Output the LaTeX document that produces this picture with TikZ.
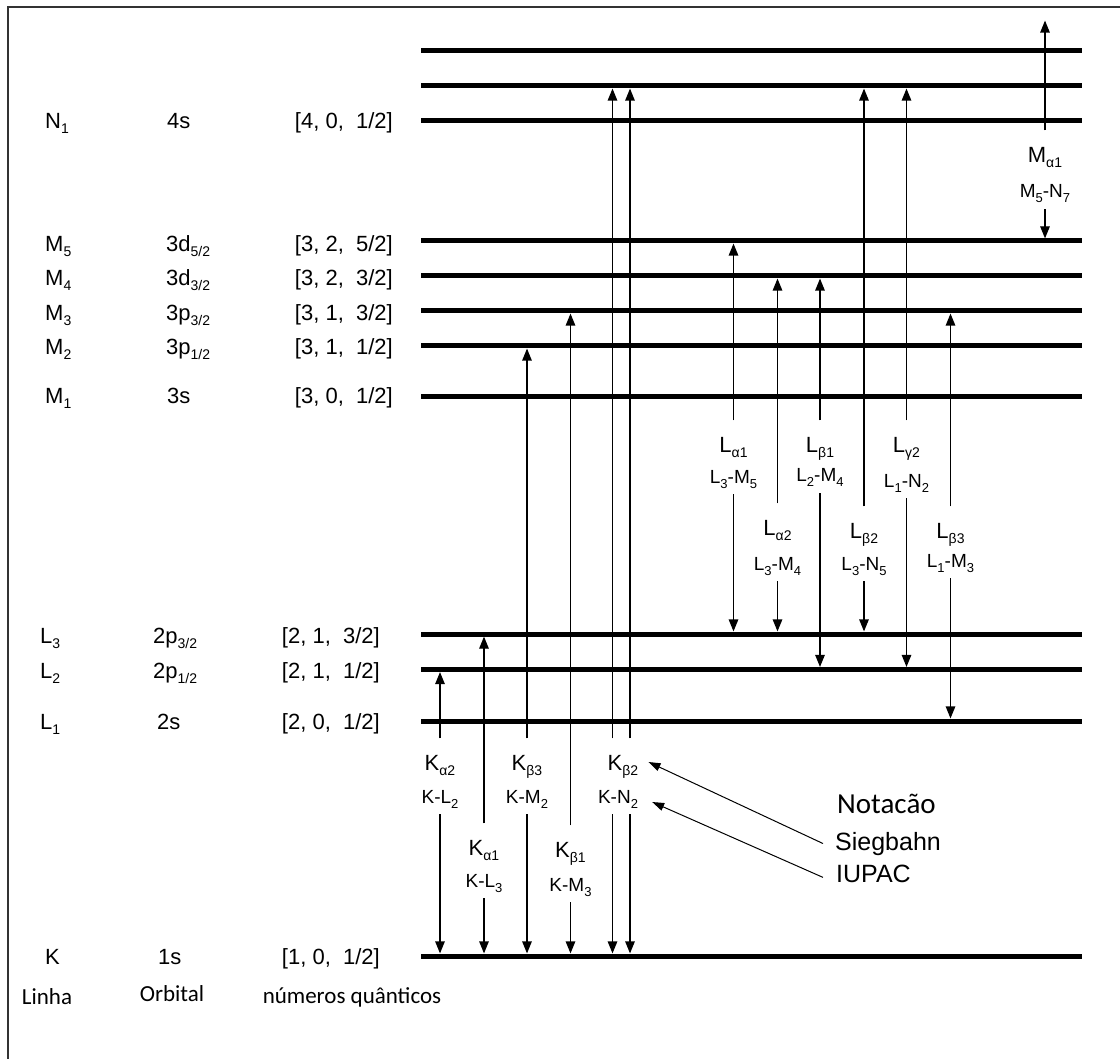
\documentclass[tikz,border=0pt]{standalone}
\usepackage{fontspec}
\setmainfont{Liberation Sans}
\newfontfamily\calfont{Carlito}
\usetikzlibrary{arrows.meta}
\newcommand\sbx[1]{\raisebox{-5pt}{\fontsize{14}{14}\selectfont #1}}
\newcommand\sbi[1]{\raisebox{-5pt}{\fontsize{13}{13}\selectfont #1}}
\tikzset{
  level/.style={line width=5pt},
  arr/.style={line width=1.2pt, -{Triangle[length=12pt,width=9.5pt]}, shorten >=2.6pt},
  narr/.style={line width=1pt, -{Triangle[length=12pt,width=8pt]}},
  frameline/.style={line width=1.6pt, draw=black!80},
  leftlbl/.style={inner sep=0pt, font=\fontsize{22}{26}\selectfont},
  sname/.style={inner sep=0pt, text height=15pt, text depth=4pt, font=\fontsize{22}{26}\selectfont},
  iname/.style={inner sep=0pt, text height=14pt, text depth=4pt, font=\fontsize{19}{23}\selectfont},
  botlbl/.style={inner sep=0pt, font=\calfont\fontsize{23}{27}\selectfont},
}
% name, x, y-name, y-iupac, upper level, lower level, text1, text2
\newcommand\trans[8]{%
  \node[sname] (#1) at (#2,#3) {#7};
  \node[iname] (#1i) at (#2,#4) {#8};
  \draw[arr] ([yshift=17pt]#1.north) -- (#1.north |- #5);
  \draw[arr] ([yshift=-7pt]#1i.south) -- (#1i.south |- #6);
}
\begin{document}
\begin{tikzpicture}[x=1pt,y=-1pt]
\useasboundingbox (0,0) rectangle (1120,1059);
\fill[white] (0,0) rectangle (1120,1059);
% frame (left and top edges visible)
\draw[frameline] (8,1062) -- (8,7) -- (1125,7);

% level lines
\coordinate (T1) at (421,51);
\coordinate (T2) at (421,86);
\coordinate (N1) at (421,121);
\coordinate (M5) at (421,241);
\coordinate (M4) at (421,276);
\coordinate (M3) at (421,311);
\coordinate (M2) at (421,346);
\coordinate (M1) at (421,397);
\coordinate (L3) at (421,634);
\coordinate (L2) at (421,669.5);
\coordinate (L1) at (421,721);
\coordinate (K) at (421,956);
\foreach \l in {T1,T2,N1,M5,M4,M3,M2,M1,L3,L2,L1,K}
  \draw[level] (\l) -- ++(661,0);
\coordinate (mtop) at (1045,18);

% left labels
\node[leftlbl, anchor=base west] (cN1) at (45,129) {N\sbx{1}};
\node[leftlbl, anchor=base west] (oN1) at (167,129) {4s};
\node[leftlbl, anchor=base east] (qN1) at (393,129) {[4, 0,\ \ 1/2]};

\node[leftlbl, anchor=base west] (cM5) at (45,252) {M\sbx{5}};
\node[leftlbl, anchor=base west] (oM5) at (166,252) {3d\sbx{5/2}};
\node[leftlbl, anchor=base east] (qM5) at (393,252) {[3, 2,\ \ 5/2]};

\node[leftlbl, anchor=base west] (cM4) at (45,286) {M\sbx{4}};
\node[leftlbl, anchor=base west] (oM4) at (166,286) {3d\sbx{3/2}};
\node[leftlbl, anchor=base east] (qM4) at (393,286) {[3, 2,\ \ 3/2]};

\node[leftlbl, anchor=base west] (cM3) at (45,321) {M\sbx{3}};
\node[leftlbl, anchor=base west] (oM3) at (166,321) {3p\sbx{3/2}};
\node[leftlbl, anchor=base east] (qM3) at (393,321) {[3, 1,\ \ 3/2]};

\node[leftlbl, anchor=base west] (cM2) at (45,355) {M\sbx{2}};
\node[leftlbl, anchor=base west] (oM2) at (166,355) {3p\sbx{1/2}};
\node[leftlbl, anchor=base east] (qM2) at (393,355) {[3, 1,\ \ 1/2]};

\node[leftlbl, anchor=base west] (cM1) at (45,404) {M\sbx{1}};
\node[leftlbl, anchor=base west] (oM1) at (167,404) {3s};
\node[leftlbl, anchor=base east] (qM1) at (393,404) {[3, 0,\ \ 1/2]};

\node[leftlbl, anchor=base west] (cL3) at (40,643) {L\sbx{3}};
\node[leftlbl, anchor=base west] (oL3) at (153,643) {2p\sbx{3/2}};
\node[leftlbl, anchor=base east] (qL3) at (380,643) {[2, 1,\ \ 3/2]};

\node[leftlbl, anchor=base west] (cL2) at (40,678) {L\sbx{2}};
\node[leftlbl, anchor=base west] (oL2) at (153,678) {2p\sbx{1/2}};
\node[leftlbl, anchor=base east] (qL2) at (380,678) {[2, 1,\ \ 1/2]};

\node[leftlbl, anchor=base west] (cL1) at (40,729) {L\sbx{1}};
\node[leftlbl, anchor=base west] (oL1) at (157,729) {2s};
\node[leftlbl, anchor=base east] (qL1) at (380,729) {[2, 0,\ \ 1/2]};

\node[leftlbl, anchor=base west] (cK) at (45,964) {K};
\node[leftlbl, anchor=base west] (oK) at (158,964) {1s};
\node[leftlbl, anchor=base east] (qK) at (380,964) {[1, 0,\ \ 1/2]};

% bottom captions
\node[botlbl, anchor=base] (linha) at (47,1004) {Linha};
\node[botlbl, anchor=base] (orb) at (172,1001) {Orbital};
\node[botlbl, anchor=base] (nq) at (352,1003) {números quânticos};

% K series
\trans{ka2}{440}{765}{798}{L2}{K}{K\sbx{α2}}{K-L\sbi{2}}
\trans{ka1}{484}{850}{882}{L3}{K}{K\sbx{α1}}{K-L\sbi{3}}
\trans{kb3}{527}{765}{798}{M2}{K}{K\sbx{β3}}{K-M\sbi{2}}
\trans{kb1}{570.5}{852}{886}{M3}{K}{K\sbx{β1}}{K-M\sbi{3}}
\node[sname] (kb2) at (623,765) {K\sbx{β2}};
\node[iname] (kb2i) at (618,798) {K-N\sbi{2}};
\draw[arr] ([xshift=-10.5pt,yshift=17pt]kb2.north) -- ([xshift=-10.5pt]kb2.north |- T2);
\draw[arr] ([xshift=7pt,yshift=17pt]kb2.north) -- ([xshift=7pt]kb2.north |- T2);
\draw[arr] ([xshift=-5.5pt,yshift=-7pt]kb2i.south) -- ([xshift=-5.5pt]kb2i.south |- K);
\draw[arr] ([xshift=12pt,yshift=-7pt]kb2i.south) -- ([xshift=12pt]kb2i.south |- K);

% L series
\trans{la1}{733.5}{447}{478}{M5}{L3}{L\sbx{α1}}{L\sbi{3}-M\sbi{5}}
\trans{la2}{777.5}{530}{565}{M4}{L3}{L\sbx{α2}}{L\sbi{3}-M\sbi{4}}
\trans{lb1}{820}{447}{477}{M4}{L2}{L\sbx{β1}}{L\sbi{2}-M\sbi{4}}
\trans{lb2}{864}{533}{565}{T2}{L3}{L\sbx{β2}}{L\sbi{3}-N\sbi{5}}
\trans{lg2}{906.5}{447}{482}{T2}{L2}{L\sbx{γ2}}{L\sbi{1}-N\sbi{2}}
\trans{lb3}{950.5}{533}{562}{M3}{L1}{L\sbx{β3}}{L\sbi{1}-M\sbi{3}}

% M series
\trans{ma1}{1045}{157}{193}{mtop}{M5}{M\sbx{α1}}{M\sbi{5}-N\sbi{7}}

% notation legend
\node[inner sep=0pt, anchor=base west, font=\calfont\fontsize{29}{33}\selectfont] (nota) at (837,813) {Notacão};
\node[inner sep=0pt, anchor=base west, font=\fontsize{25}{29}\selectfont] (sieg) at (835,850) {Siegbahn};
\node[inner sep=0pt, anchor=base west, font=\fontsize{25}{29}\selectfont] (iupac) at (836,882) {IUPAC};
\draw[narr] ([xshift=-12pt]sieg.west) -- ([xshift=10pt,yshift=3pt]kb2.east);
\draw[narr] ([xshift=-13pt,yshift=-4pt]iupac.west) -- ([xshift=14pt,yshift=-4pt]kb2i.east);
\end{tikzpicture}
\end{document}
